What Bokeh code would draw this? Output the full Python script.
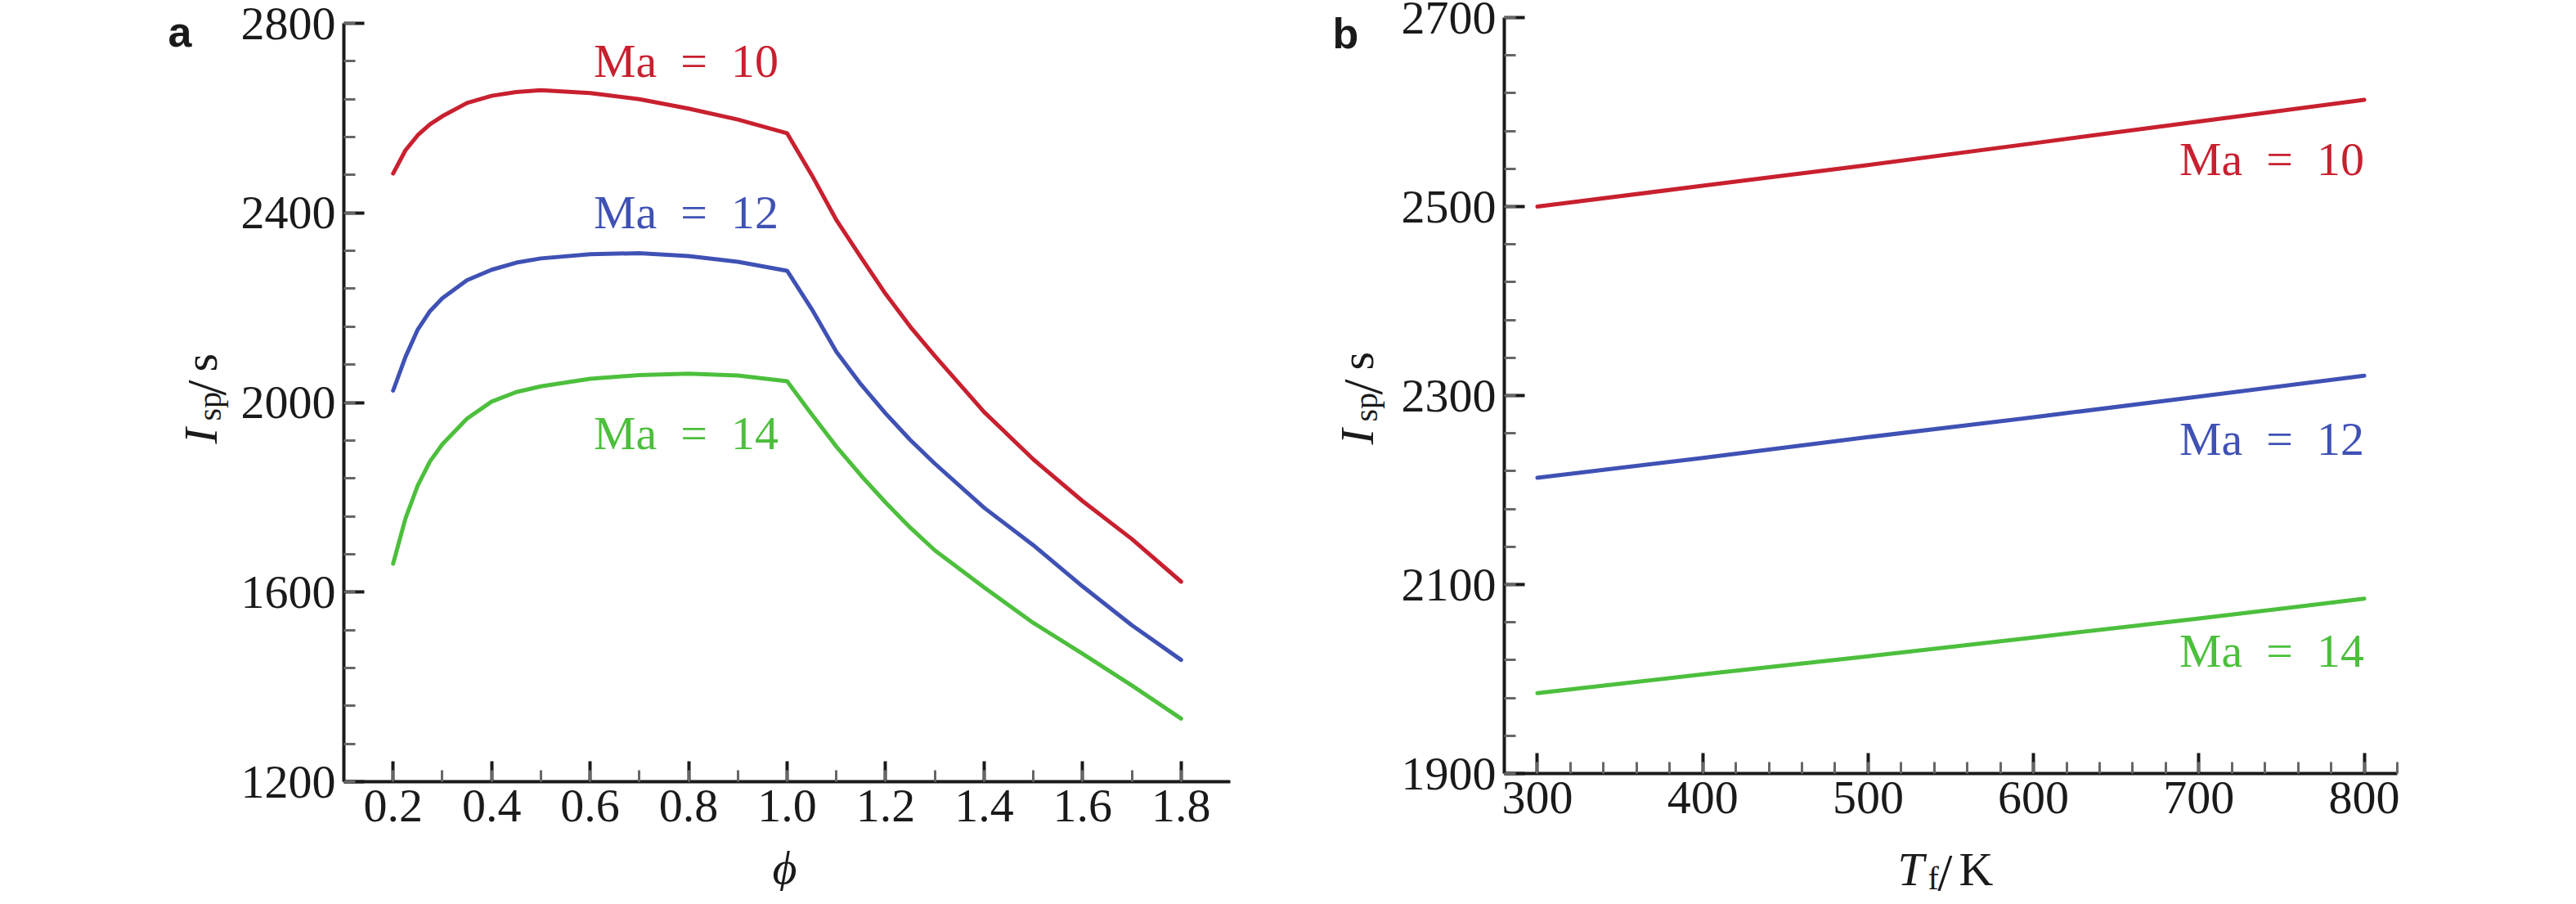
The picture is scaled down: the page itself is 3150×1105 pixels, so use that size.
from math import pi

from bokeh.core.properties import value
from bokeh.embed import file_html
from bokeh.layouts import row
from bokeh.models import FixedTicker, PrintfTickFormatter, Range1d, SingleIntervalTicker
from bokeh.plotting import figure
from bokeh.resources import INLINE

# panel a: specific impulse vs equivalence ratio
phi = [0.2, 0.225, 0.25, 0.275, 0.3, 0.35, 0.4, 0.45, 0.5, 0.6, 0.7, 0.8, 0.9, 1.0,
       1.05, 1.1, 1.15, 1.2, 1.25, 1.3, 1.4, 1.5, 1.6, 1.7, 1.8]
isp_ma10_a = [2483, 2532, 2564, 2587, 2604, 2632, 2647, 2655, 2659, 2653, 2640, 2620, 2597, 2568,
              2480, 2385, 2306, 2229, 2160, 2098, 1980, 1880, 1792, 1712, 1622]
isp_ma12_a = [2025, 2096, 2154, 2193, 2220, 2258, 2280, 2295, 2304, 2313, 2315, 2309, 2297, 2278,
              2197, 2107, 2038, 1977, 1921, 1871, 1778, 1699, 1612, 1530, 1457]
isp_ma14_a = [1660, 1755, 1825, 1876, 1912, 1966, 2002, 2022, 2034, 2050, 2058, 2061, 2057, 2045,
              1975, 1907, 1846, 1789, 1736, 1688, 1610, 1535, 1470, 1403, 1333]

# panel b: specific impulse vs fuel temperature
tf = [300, 400, 500, 600, 700, 800]
isp_ma10_b = [2500, 2522, 2544, 2567, 2590, 2613]
isp_ma12_b = [2213, 2234, 2256, 2277, 2299, 2321]
isp_ma14_b = [1985, 2005, 2024, 2044, 2064, 2085]

yticks_b = [1900, 2100, 2300, 2500, 2700]
yminor_b = list(range(1900, 2701, 40))

series_names = ["Ma\u2002=\u200210", "Ma\u2002=\u200212", "Ma\u2002=\u200214"]
colors = ["#c8202f", "#3f51b4", "#4cbf3c"]

# where the curve names sit (data units)
name_x_a = [0.795, 0.795, 0.795]
name_y_a = [2720, 2402, 1935]
name_x_b = [800, 800, 800]
name_y_b = [2550, 2254, 2030]

SERIF = "Liberation Serif"
INK = "#1a1a1a"
PAGE_TOP, PAGE_BOTTOM = 8, 1097  # canvas edges, page pixels


def extend(v0, v1, px0, px1, edge0, edge1):
    # data range whose ends fall on the canvas edges, given where v0 / v1 must sit
    k = (px1 - px0) / (v1 - v0)
    return v0 - (px0 - edge0) / k, v1 + (edge1 - px1) / k


def base_panel(left_px, right_px, xr, yr, frame, xticker, yticker):
    # frame = (left, right, top, bottom) page pixels of the axes box;
    # the plot frame fills the whole canvas and the axes sit at fixed locations
    fl, fr, ft, fb = frame
    x0, x1 = extend(xr[0], xr[1], fl, fr, left_px, right_px)
    y1, y0 = extend(yr[1], yr[0], ft, fb, PAGE_TOP, PAGE_BOTTOM)
    p = figure(width=right_px - left_px, height=PAGE_BOTTOM - PAGE_TOP,
               x_range=Range1d(x0, x1), y_range=Range1d(y0, y1),
               output_backend="svg", toolbar_location=None, min_border=0)
    p.grid.visible = False
    p.outline_line_color = None
    p.xaxis.ticker = xticker
    p.yaxis.ticker = yticker
    p.xaxis.fixed_location = yr[0]
    p.xaxis.bounds = xr
    p.yaxis.fixed_location = xr[0]
    p.yaxis.bounds = yr
    for ax in (p.xaxis, p.yaxis):
        ax.axis_line_width = 4
        ax.axis_line_color = INK
        ax.major_tick_in = 25
        ax.major_tick_out = 0
        ax.major_tick_line_width = 4
        ax.major_tick_line_color = INK
        ax.minor_tick_in = 14
        ax.minor_tick_out = 0
        ax.minor_tick_line_width = 3
        ax.minor_tick_line_color = "#666666"
        ax.major_label_text_font = SERIF
        ax.major_label_text_font_size = "58px"
        ax.major_label_text_color = INK
    p.xaxis.major_label_standoff = 10
    p.yaxis.major_label_standoff = 10

    # page pixel -> data, for the annotation texts
    kx = (right_px - left_px) / (x1 - x0)
    ky = (PAGE_BOTTOM - PAGE_TOP) / (y1 - y0)

    def to_data(px, py):
        return x0 + (px - left_px) / kx, y1 - (py - PAGE_TOP) / ky

    return p, to_data


def add_text(p, to_data, txt, px, py, size="56px", style="normal", font=SERIF,
             angle=0.0, align="left"):
    x, y = to_data(px, py)
    p.text(x=[x], y=[y], text=[txt], angle=angle,
           text_font=value(font), text_font_size=value(size),
           text_font_style=value(style), text_color=INK,
           text_align=value(align), text_baseline=value("alphabetic"))


def add_ylabel(p, to_data, bx, ys):
    # I_sp / s, written upward
    add_text(p, to_data, "I", bx, ys[0], size="58px", style="italic", angle=pi / 2)
    add_text(p, to_data, "sp", bx + 11, ys[1], size="40px", angle=pi / 2)
    add_text(p, to_data, "/", bx + 6, ys[2], size="68px", angle=pi / 2)
    add_text(p, to_data, "s", bx, ys[3], size="58px", angle=pi / 2)


# ---- panel a
pa, to_a = base_panel(8, 1560, (0.1, 1.9), (1200, 2800), (428, 1512, 36, 963),
                      SingleIntervalTicker(interval=0.2, num_minor_ticks=2),
                      SingleIntervalTicker(interval=400, num_minor_ticks=5))
pa.xaxis.formatter = PrintfTickFormatter(format="%.1f")
for ys, c in zip([isp_ma10_a, isp_ma12_a, isp_ma14_a], colors):
    pa.line(phi, ys, line_color=c, line_width=5, line_join="round", line_cap="round")
pa.text(x=name_x_a, y=name_y_a, text=series_names, text_color=colors,
        text_font=value(SERIF), text_font_size="58px", text_align="center",
        text_baseline="alphabetic")
add_ylabel(pa, to_a, 253, (550, 522, 491, 462))
add_text(pa, to_a, "\u03d5", 967, 1068, size="58px", style="italic", align="center")
add_text(pa, to_a, "a", 213, 46, size="52px", style="bold", font="Liberation Sans")

# ---- panel b
pb, to_b = base_panel(1560, 3142, (280, 820), (1900, 2700), (1847, 2939, 29, 953),
                      SingleIntervalTicker(interval=100, num_minor_ticks=5),
                      FixedTicker(ticks=yticks_b, minor_ticks=yminor_b))
for ys, c in zip([isp_ma10_b, isp_ma12_b, isp_ma14_b], colors):
    pb.line(tf, ys, line_color=c, line_width=5, line_join="round", line_cap="round")
pb.text(x=name_x_b, y=name_y_b, text=series_names, text_color=colors,
        text_font=value(SERIF), text_font_size="58px", text_align="right",
        text_baseline="alphabetic")
add_ylabel(pb, to_b, 1667, (551, 523, 490, 460))
add_text(pb, to_b, "T", 2328, 1070, size="58px", style="italic")
add_text(pb, to_b, "f", 2365, 1081, size="40px")
add_text(pb, to_b, "/", 2376, 1074, size="68px")
add_text(pb, to_b, "K", 2403, 1070, size="58px")
add_text(pb, to_b, "b", 1637, 48, size="52px", style="bold", font="Liberation Sans")

layout = row(pa, pb)
open("out.html", "w").write(file_html(layout, INLINE))
